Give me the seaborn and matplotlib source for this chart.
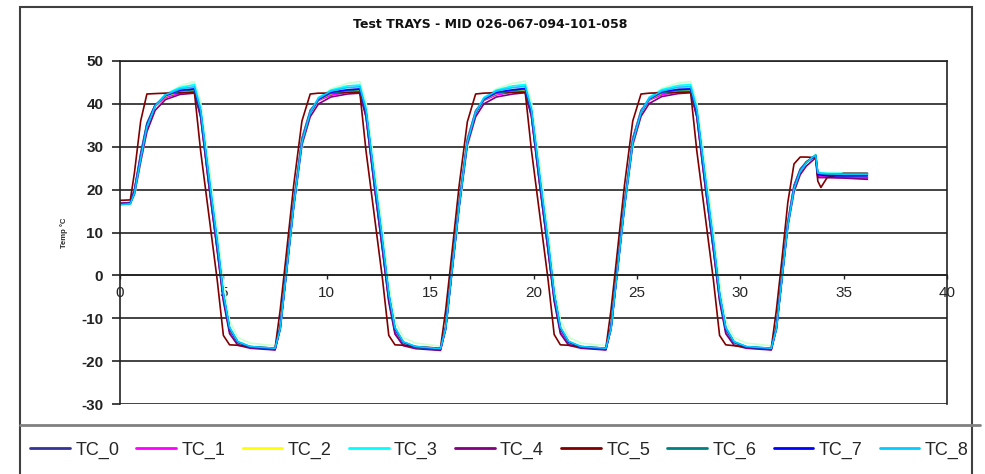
import pandas as pd
import numpy as np
import matplotlib
matplotlib.use('Agg')
import matplotlib.pyplot as plt
from matplotlib.lines import Line2D
from matplotlib.patches import Rectangle
import seaborn as sns

sns.set_theme(style='white')
plt.rcParams['font.family'] = ['Liberation Sans', 'DejaVu Sans']

# time axis (shared by every thermocouple trace)
time = [
    0.0, 0.5, 0.7, 1.0, 1.3, 1.7, 2.2, 2.9,
    3.6, 3.9, 4.3, 4.7, 5.0, 5.3, 5.7, 6.3, 7.5,
    7.75, 8.0, 8.4, 8.8, 9.2, 9.6, 10.2, 11.0,
    11.6, 11.9, 12.3, 12.7, 13.0, 13.3, 13.7, 14.3, 15.5,
    15.75, 16.0, 16.4, 16.8, 17.2, 17.6, 18.2, 19.0,
    19.6, 19.9, 20.3, 20.7, 21.0, 21.3, 21.7, 22.3, 23.5,
    23.75, 24.0, 24.4, 24.8, 25.2, 25.6, 26.2, 27.0,
    27.6, 27.9, 28.3, 28.7, 29.0, 29.3, 29.7, 30.3, 31.5,
    31.75, 32.0, 32.3, 32.6, 32.9, 33.2, 33.5, 33.65, 33.75, 33.9, 34.2, 35.0, 36.15,
]

tc_0 = [16.8, 17.0, 20.0, 28.5, 35.5, 39.8, 41.6, 42.6,
        43.0, 37.0, 21.0, 6.0, -5.5, -13.0, -15.9, -16.8, -17.2,
        -12.0, -1.0, 17.0, 32.0, 38.5, 41.0, 42.2, 42.7,
        42.9, 37.0, 21.0, 5.8, -5.8, -13.2, -16.0, -16.9, -17.3,
        -12.2, -1.2, 16.8, 31.8, 38.4, 41.0, 42.2, 42.8,
        43.0, 37.2, 21.2, 6.0, -5.6, -13.0, -15.9, -16.8, -17.2,
        -12.0, -1.0, 17.0, 32.0, 38.5, 41.1, 42.3, 42.8,
        43.0, 37.0, 21.0, 6.0, -5.5, -13.0, -15.8, -16.8, -17.2,
        -12.0, -1.0, 12.5, 21.0, 24.8, 26.5, 27.5, 27.9, 23.4, 23.2, 23.0, 22.9, 22.8]

tc_1 = [16.7, 16.9, 20.0, 28.0, 35.0, 39.5, 41.5, 42.6,
        43.1, 37.5, 21.5, 6.5, -5.0, -12.8, -15.8, -16.8, -17.3,
        -12.0, -1.0, 16.5, 31.5, 38.0, 40.8, 42.0, 42.8,
        43.0, 37.4, 21.4, 6.3, -5.2, -12.9, -15.8, -16.9, -17.4,
        -12.1, -1.1, 16.4, 31.4, 38.0, 40.8, 42.1, 42.8,
        43.1, 37.5, 21.5, 6.4, -5.1, -12.8, -15.8, -16.8, -17.3,
        -12.0, -1.0, 16.6, 31.6, 38.1, 40.9, 42.1, 42.9,
        43.1, 37.5, 21.5, 6.5, -5.0, -12.8, -15.7, -16.8, -17.3,
        -12.1, -1.1, 12.2, 20.8, 24.6, 26.4, 27.4, 27.8, 23.2, 23.0, 22.9, 22.8, 22.7]

tc_2 = [16.6, 16.8, 19.5, 27.5, 35.0, 39.5, 41.8, 42.9,
        43.2, 37.8, 22.0, 7.0, -4.8, -12.6, -15.7, -16.8, -17.1,
        -12.0, -1.2, 16.5, 31.5, 38.0, 41.0, 42.4, 43.0,
        43.2, 37.8, 22.0, 7.0, -4.8, -12.6, -15.7, -16.8, -17.2,
        -12.1, -1.2, 16.4, 31.4, 38.0, 41.0, 42.4, 43.0,
        43.3, 37.9, 22.1, 7.1, -4.7, -12.5, -15.6, -16.7, -17.1,
        -12.0, -1.1, 16.5, 31.5, 38.1, 41.1, 42.5, 43.1,
        43.2, 37.8, 22.0, 7.0, -4.8, -12.6, -15.7, -16.8, -17.1,
        -12.0, -1.2, 12.0, 20.5, 24.5, 26.5, 27.5, 28.0, 23.6, 23.5, 23.4, 23.3, 23.3]

tc_3 = [16.5, 16.7, 19.0, 27.0, 34.5, 39.5, 42.3, 43.8,
        44.5, 39.0, 23.5, 8.5, -4.0, -12.0, -15.4, -16.6, -17.0,
        -12.5, -1.5, 16.0, 31.0, 38.0, 41.5, 43.2, 44.2,
        44.4, 38.9, 23.4, 8.4, -4.1, -12.1, -15.5, -16.6, -17.1,
        -12.6, -1.6, 15.9, 31.0, 38.0, 41.5, 43.2, 44.2,
        44.5, 39.0, 23.5, 8.5, -4.0, -12.0, -15.4, -16.6, -17.0,
        -12.5, -1.5, 16.0, 31.1, 38.1, 41.6, 43.3, 44.3,
        44.5, 39.0, 23.5, 8.5, -4.0, -12.0, -15.4, -16.6, -17.0,
        -12.5, -1.5, 11.5, 20.0, 24.2, 26.3, 27.6, 28.1, 24.0, 23.9, 23.8, 23.8, 23.8]

tc_4 = [16.8, 16.9, 19.0, 26.5, 33.5, 38.5, 41.0, 42.2,
        42.5, 37.0, 21.0, 6.0, -6.0, -13.6, -16.3, -17.0, -17.4,
        -12.5, -1.5, 16.0, 30.5, 37.0, 40.0, 41.6, 42.3,
        42.5, 37.0, 21.0, 5.8, -6.2, -13.7, -16.4, -17.1, -17.5,
        -12.6, -1.6, 15.8, 30.4, 37.0, 40.0, 41.6, 42.3,
        42.6, 37.1, 21.1, 6.0, -6.0, -13.6, -16.3, -17.0, -17.4,
        -12.5, -1.5, 16.0, 30.5, 37.1, 40.1, 41.7, 42.4,
        42.6, 37.0, 21.0, 6.0, -6.0, -13.6, -16.3, -17.0, -17.4,
        -12.5, -1.5, 11.5, 19.5, 23.5, 25.5, 26.8, 27.4, 22.8, 22.8, 22.8, 22.7, 22.4]

tc_5 = [17.5, 17.6, 24.0, 36.0, 42.3, 42.4, 42.5, 42.6,
        42.7, 29.0, 14.0, -1.0, -14.0, -16.2, -16.3, -16.6, -17.0,
        -8.0, 3.0, 21.0, 36.0, 42.3, 42.5, 42.5, 42.7,
        42.7, 29.0, 14.0, -1.0, -14.0, -16.2, -16.3, -16.6, -17.0,
        -8.2, 2.8, 20.8, 35.8, 42.3, 42.5, 42.6, 42.7,
        42.7, 29.2, 14.2, -0.8, -13.8, -16.2, -16.3, -16.6, -17.0,
        -8.0, 3.0, 21.0, 36.0, 42.3, 42.5, 42.6, 42.7,
        42.7, 29.0, 14.0, -1.0, -14.0, -16.2, -16.4, -16.7, -17.0,
        -8.0, 3.0, 17.0, 26.0, 27.6, 27.6, 27.5, 27.3, 22.0, 20.5, 22.8, 23.8, 23.8]

tc_6 = [16.6, 16.8, 19.8, 27.8, 35.2, 39.6, 41.9, 43.0,
        43.3, 38.0, 22.2, 7.2, -4.6, -12.5, -15.6, -16.7, -17.1,
        -12.1, -1.2, 16.5, 31.4, 38.0, 41.0, 42.5, 43.1,
        43.3, 38.1, 22.3, 7.2, -4.6, -12.5, -15.6, -16.8, -17.2,
        -12.2, -1.3, 16.4, 31.3, 38.0, 41.0, 42.5, 43.1,
        43.4, 38.1, 22.3, 7.3, -4.5, -12.4, -15.6, -16.7, -17.1,
        -12.1, -1.2, 16.5, 31.4, 38.1, 41.1, 42.6, 43.2,
        43.3, 38.0, 22.2, 7.2, -4.6, -12.5, -15.6, -16.7, -17.1,
        -12.1, -1.2, 12.0, 20.6, 24.6, 26.5, 27.5, 27.9, 23.8, 23.7, 23.6, 23.6, 23.6]

tc_7 = [16.6, 16.8, 19.6, 27.6, 35.0, 39.6, 42.0, 43.2,
        43.5, 38.2, 22.5, 7.5, -4.5, -12.4, -15.6, -16.7, -17.1,
        -12.2, -1.3, 16.3, 31.3, 38.0, 41.1, 42.7, 43.3,
        43.5, 38.2, 22.5, 7.5, -4.5, -12.4, -15.6, -16.7, -17.2,
        -12.3, -1.3, 16.2, 31.2, 37.9, 41.1, 42.7, 43.3,
        43.6, 38.3, 22.6, 7.6, -4.4, -12.3, -15.5, -16.7, -17.1,
        -12.2, -1.2, 16.3, 31.3, 38.0, 41.2, 42.8, 43.4,
        43.5, 38.2, 22.5, 7.5, -4.5, -12.4, -15.6, -16.7, -17.1,
        -12.2, -1.3, 11.8, 20.4, 24.4, 26.4, 27.5, 28.0, 23.5, 23.4, 23.3, 23.2, 23.2]

tc_8 = [16.5, 16.7, 19.2, 27.2, 34.7, 39.5, 42.1, 43.5,
        44.0, 38.6, 23.0, 8.0, -4.3, -12.2, -15.5, -16.6, -17.0,
        -12.4, -1.4, 16.1, 31.1, 38.0, 41.3, 43.0, 43.8,
        44.0, 38.6, 23.0, 8.0, -4.3, -12.2, -15.5, -16.6, -17.1,
        -12.4, -1.4, 16.1, 31.1, 38.0, 41.3, 43.0, 43.8,
        44.1, 38.7, 23.1, 8.1, -4.2, -12.1, -15.4, -16.6, -17.0,
        -12.4, -1.4, 16.1, 31.1, 38.0, 41.3, 43.0, 43.9,
        44.0, 38.6, 23.0, 8.0, -4.3, -12.2, -15.5, -16.6, -17.0,
        -12.4, -1.4, 11.6, 20.2, 24.3, 26.3, 27.6, 28.0, 23.9, 23.8, 23.7, 23.6, 23.6]

# faint extra probe drawn in the plot but cut off from the legend
tc_9 = [16.4, 16.6, 18.5, 26.0, 33.5, 38.5, 42.0, 44.2,
        45.2, 40.5, 26.0, 11.0, -1.5, -10.5, -14.5, -15.8, -16.4,
        -13.0, -2.5, 14.5, 29.5, 37.0, 41.0, 43.5, 44.8,
        45.2, 40.5, 26.0, 11.0, -1.5, -10.5, -14.5, -15.8, -16.5,
        -13.1, -2.6, 14.4, 29.4, 37.0, 41.0, 43.5, 44.8,
        45.3, 40.6, 26.1, 11.1, -1.4, -10.4, -14.4, -15.8, -16.4,
        -13.0, -2.5, 14.5, 29.5, 37.1, 41.1, 43.6, 44.9,
        45.2, 40.5, 26.0, 11.0, -1.5, -10.5, -14.5, -15.8, -16.4,
        -13.0, -2.5, 10.5, 19.0, 23.5, 26.0, 27.6, 28.3, 24.2, 24.0, 23.9, 23.8, 23.8]

channels = ['TC_0', 'TC_1', 'TC_2', 'TC_3', 'TC_4', 'TC_5', 'TC_6', 'TC_7', 'TC_8', 'TC_9']
series = [tc_0, tc_1, tc_2, tc_3, tc_4, tc_5, tc_6, tc_7, tc_8, tc_9]
colors = ['#333399', '#FF00FF', '#FFFF00', '#00FFFF', '#800080',
          '#800000', '#008080', '#0000FF', '#00CCFF', '#CCFFCC']
legend_channels = channels[:9]

x_ticks = [0, 5, 10, 15, 20, 25, 30, 35, 40]
y_ticks = [-30, -20, -10, 0, 10, 20, 30, 40, 50]

df = pd.concat([pd.DataFrame({'time': time, 'temp': vals, 'channel': ch})
                for ch, vals in zip(channels, series)], ignore_index=True)

W, H = 985, 474
fig = plt.figure(figsize=(W / 100, H / 100), dpi=100)
ax = fig.add_axes([120 / W, 1 - 404 / H, (947 - 120) / W, (404 - 61) / H])

palette = dict(zip(channels, colors))
# draw pale one first so the coloured probes sit on top
draw_order = ['TC_9'] + channels[:9]
sns.lineplot(data=df, x='time', y='temp', hue='channel', hue_order=draw_order,
             palette=palette, estimator=None, sort=False, linewidth=1.2,
             legend=False, ax=ax)

ax.set_xlim(0, 40)
ax.set_ylim(-30, 50)
ax.set_xticks(x_ticks)
ax.set_yticks(y_ticks)
ax.set_xticklabels([str(t) for t in x_ticks], fontsize=7, color='#333333')
ax.set_yticklabels([str(t) for t in y_ticks], fontsize=11, fontweight='bold', color='#222222')
ax.yaxis.grid(True, color='#222222', linewidth=1.2)
ax.set_axisbelow(True)

ax.spines['bottom'].set_position(('data', 0))
for s in ax.spines.values():
    s.set_color('#222222')
    s.set_linewidth(1.2)
ax.tick_params(axis='y', direction='out', length=6, width=1.2, color='#222222', pad=6, left=True)
ax.tick_params(axis='x', direction='out', length=3, width=1, color='#222222', pad=5, bottom=True)

ax.set_xlabel('')
ax.set_ylabel('Temp °C', fontsize=5.5, fontweight='bold')
ax.yaxis.set_label_coords(-52 / 827, 0.5)

fig.text(490 / W, 1 - 24 / H, 'Test TRAYS - MID 026-067-094-101-058',
         ha='center', va='center', fontsize=9, fontweight='bold', color='#111111',
         family=['DejaVu Sans'])

# outer chart box and legend separator
fig.patches.append(Rectangle((20 / W, -0.02), 952 / W, 1.02 - 7 / H, transform=fig.transFigure,
                             fill=False, edgecolor='#404040', linewidth=1.5))
fig.lines.append(Line2D([20 / W, 980 / W], [1 - 425 / H] * 2, transform=fig.transFigure,
                        color='#808080', linewidth=2))

handles = [Line2D([], [], color=palette[ch], linewidth=2) for ch in legend_channels]
fig.legend(handles, legend_channels, loc='center', bbox_to_anchor=(0.507, 1 - 450 / H),
           ncol=9, frameon=False, fontsize=13, handlelength=2.2, handletextpad=0.3,
           columnspacing=0.95)

fig.savefig('out.png', dpi=100)
